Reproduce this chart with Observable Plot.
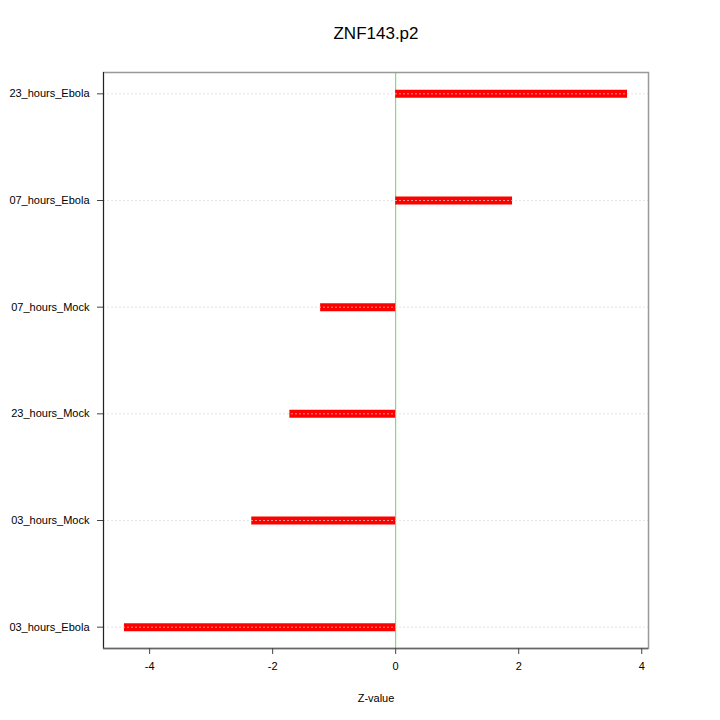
<!DOCTYPE html>
<html>
<head>
<meta charset="utf-8">
<script src="https://cdn.jsdelivr.net/npm/d3@7"></script>
<script src="https://cdn.jsdelivr.net/npm/@observablehq/plot@0.6"></script>
<style>
  html, body { margin: 0; padding: 0; background: #fff; }
  #chart { width: 720px; height: 720px; }
</style>
</head>
<body>
<div id="chart"></div>
<script>
const title = "ZNF143.p2";
const xLabel = "Z-value";
// bottom to top
const categories = ["03_hours_Ebola", "03_hours_Mock", "23_hours_Mock", "07_hours_Mock", "07_hours_Ebola", "23_hours_Ebola"];
const zValues = [-4.41, -2.34, -1.72, -1.22, 1.90, 3.77];
const xTicks = [-4, -2, 0, 2, 4];

const rows = categories.map((c, i) => ({name: c, pos: i + 1, z: zValues[i]}));
const positions = rows.map(d => d.pos);
const xDomain = [-4.75, 4.11];
const yDomain = [0.8, 6.2];
const font = "Liberation Sans, Helvetica, Arial, sans-serif";

const chart = Plot.plot({
  width: 720,
  height: 720,
  marginLeft: 103,
  marginRight: 72,
  marginTop: 72,
  marginBottom: 72,
  style: {fontFamily: font, fontSize: "11px", background: "#fff", color: "#000"},
  x: {domain: xDomain, ticks: xTicks, label: null},
  y: {domain: yDomain, ticks: positions, label: null},
  marks: [
    Plot.ruleX([0], {stroke: "#55e055", strokeWidth: 1}),
    Plot.ruleY(rows, {y: "pos", x1: 0, x2: "z", stroke: "#ff0000", strokeWidth: 8}),
    Plot.ruleY(positions, {stroke: "#d8d8d8", strokeWidth: 0.7, strokeDasharray: "2,2"}),
    Plot.frame({stroke: "#999", strokeWidth: 1.5}),
    Plot.ruleX([xDomain[0]], {y1: yDomain[0], y2: yDomain[1], stroke: "#222", strokeWidth: 1}),
    Plot.ruleY([yDomain[0]], {x1: xDomain[0], x2: xDomain[1], stroke: "#666", strokeWidth: 1.5}),
    Plot.axisX({ticks: xTicks, tickFormat: d => String(d), tickSize: 6, tickPadding: 8, stroke: "#444", fontSize: 11}),
    Plot.axisY({ticks: positions, tickFormat: d => categories[d - 1], tickSize: 6, tickPadding: 8, stroke: "#444", fontSize: 11}),
    Plot.text([title], {frameAnchor: "top", dy: -46, fontSize: 17, fill: "#000"}),
    Plot.text([xLabel], {frameAnchor: "bottom", dy: 53, fontSize: 11, fill: "#000"})
  ]
});
document.getElementById("chart").appendChild(chart);
</script>
</body>
</html>
